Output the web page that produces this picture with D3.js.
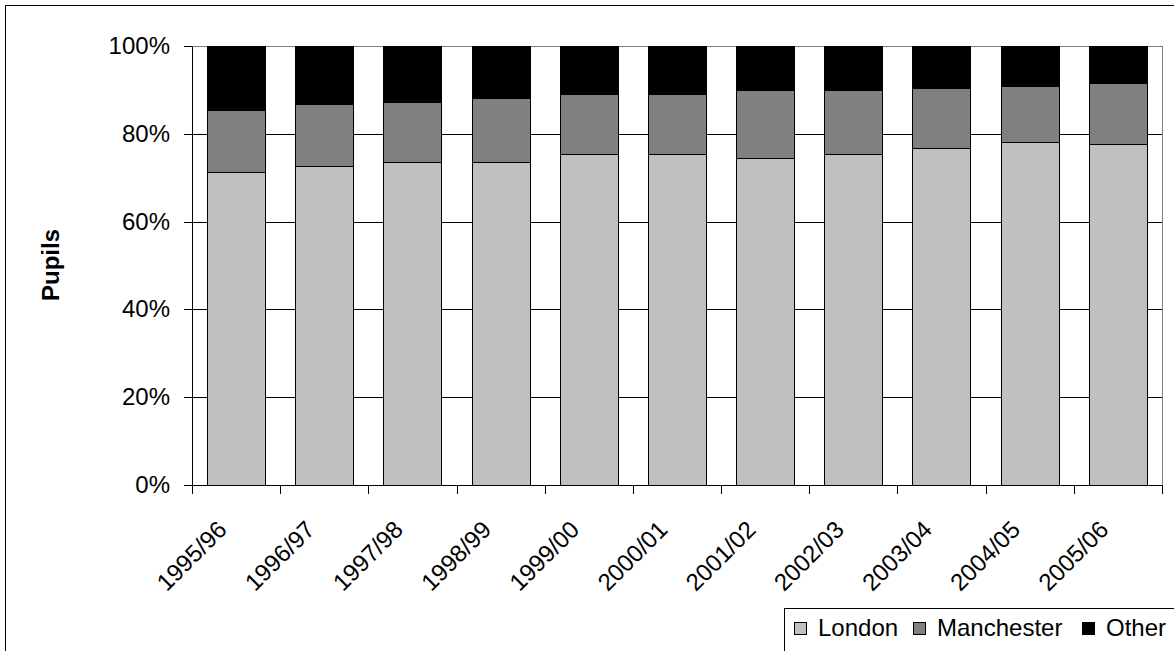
<!DOCTYPE html>
<html>
<head>
<meta charset="utf-8">
<script src="https://cdn.jsdelivr.net/npm/d3@7/dist/d3.min.js"></script>
<style>
  html, body { margin: 0; padding: 0; background: #fff; }
  svg { display: block; font-family: "Liberation Sans", Arial, sans-serif; }
</style>
</head>
<body>
<svg id="chart" width="1174" height="651"></svg>
<script>
const categories = ["1995/96","1996/97","1997/98","1998/99","1999/00","2000/01","2001/02","2002/03","2003/04","2004/05","2005/06"];
const seriesNames = ["London","Manchester","Other"];
const london     = [71.2, 72.6, 73.5, 73.5, 75.3, 75.3, 74.4, 75.3, 76.8, 78.1, 77.6];
const manchester = [14.3, 14.2, 13.8, 14.6, 13.8, 13.8, 15.6, 14.7, 13.7, 12.8, 13.9];
const other      = [14.5, 13.2, 12.7, 11.9, 10.9, 10.9, 10.0, 10.0,  9.5,  9.1,  8.5];
const yTicks = [0, 20, 40, 60, 80, 100];
const colors = ["#C0C0C0", "#808080", "#000000"];

const rows = categories.map((c, i) => ({cat: c, London: london[i], Manchester: manchester[i], Other: other[i]}));

const svg = d3.select("#chart");
const L = 192, R = 1162, T = 46, B = 485;

const x = d3.scaleBand().domain(categories).range([L, R]).paddingInner(0.34).paddingOuter(0.17);
const y = d3.scaleLinear().domain([0, 100]).range([B, T]).interpolate(d3.interpolateRound);

// outer chart frame
svg.append("rect").attr("x", 5.5).attr("y", 5.5).attr("width", 1200).attr("height", 700)
  .attr("fill", "#fff").attr("stroke", "#000").attr("stroke-width", 1);

// plot area border
svg.append("rect").attr("x", L + 0.5).attr("y", T + 0.5).attr("width", R - L).attr("height", B - T)
  .attr("fill", "#fff").attr("stroke", "#808080").attr("stroke-width", 1);

// gridlines
svg.append("g").selectAll("line").data(yTicks.filter(d => d > 0 && d < 100)).join("line")
  .attr("x1", L).attr("x2", R).attr("y1", d => y(d) + 0.5).attr("y2", d => y(d) + 0.5)
  .attr("stroke", "#000").attr("stroke-width", 1);

// stacked bars
const stack = d3.stack().keys(seriesNames);
const stacked = stack(rows);
svg.append("g").selectAll("g").data(stacked).join("g")
  .attr("fill", (d, i) => colors[i])
  .selectAll("rect").data(d => d).join("rect")
  .attr("x", d => Math.round(x(d.data.cat)) + 0.5)
  .attr("width", Math.round(x.bandwidth()))
  .attr("y", d => y(d[1]) + 0.5)
  .attr("height", d => y(d[0]) - y(d[1]))
  .attr("stroke", "#000").attr("stroke-width", 1);

// y axis
const yAxis = d3.axisLeft(y).tickValues(yTicks).tickFormat(d => d + "%").tickSize(8).tickPadding(14);
const yg = svg.append("g").attr("transform", `translate(${L},0)`).call(yAxis);
yg.select(".domain").attr("stroke", "#000").attr("d", `M0.5,${B + 0.5}V${T + 0.5}`);
yg.selectAll(".tick line").attr("stroke", "#000");
yg.selectAll(".tick text").attr("font-size", 24).attr("fill", "#000")
  .attr("font-family", "'Liberation Sans', Arial, sans-serif");

// x axis (ticks at band boundaries)
const step = x.step();
const bounds = d3.range(categories.length + 1).map(i => Math.round(L + i * step));
const xg = svg.append("g");
xg.append("line").attr("x1", L - 8).attr("x2", R + 1).attr("y1", B + 0.5).attr("y2", B + 0.5).attr("stroke", "#000");
xg.selectAll("line.tk").data(bounds).join("line").attr("class", "tk")
  .attr("x1", d => d + 0.5).attr("x2", d => d + 0.5)
  .attr("y1", B).attr("y2", B + 9).attr("stroke", "#000");
xg.selectAll("text").data(categories).join("text")
  .attr("transform", d => `translate(${x(d) + x.bandwidth() / 2 - 8},531) rotate(-45)`)
  .attr("text-anchor", "end").attr("font-size", 24).attr("fill", "#000")
  .text(d => d);

// y axis title
svg.append("text").attr("transform", "translate(59,265) rotate(-90)")
  .attr("text-anchor", "middle").attr("font-size", 24).attr("font-weight", "bold").attr("fill", "#000")
  .text("Pupils");

// legend
const lg = svg.append("g");
lg.append("rect").attr("x", 784.5).attr("y", 608.5).attr("width", 500).attr("height", 100)
  .attr("fill", "#fff").attr("stroke", "#000").attr("stroke-width", 1);
const legendX = [794, 913, 1082];
seriesNames.forEach((n, i) => {
  lg.append("rect").attr("x", legendX[i] + 0.5).attr("y", 622.5).attr("width", 12).attr("height", 12)
    .attr("fill", colors[i]).attr("stroke", "#000").attr("stroke-width", 1);
  lg.append("text").attr("x", legendX[i] + 24).attr("y", 636).attr("font-size", 24).attr("fill", "#000").text(n);
});
</script>
</body>
</html>
